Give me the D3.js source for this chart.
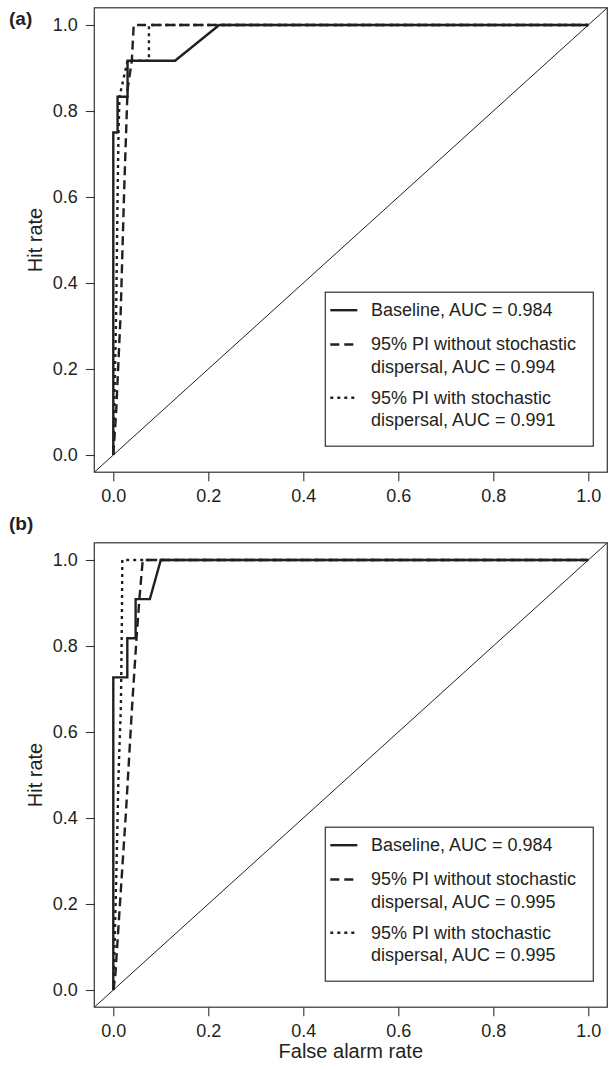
<!DOCTYPE html>
<html>
<head>
<meta charset="utf-8">
<script src="https://cdn.jsdelivr.net/npm/d3@7"></script>
<style>
  body { margin: 0; background: #fff; }
  svg text { font-family: "Liberation Sans", Arial, sans-serif; fill: #231f20; }
</style>
</head>
<body>
<div id="chart"></div>
<script>
(function(d3) {
// ---- data ----
var tickValues = [0, 0.2, 0.4, 0.6, 0.8, 1.0];
var panelLabels = ["(a)", "(b)"];
var seriesNames = ["Baseline", "95% PI without stochastic", "95% PI with stochastic"];
var aucA = [0.984, 0.994, 0.991];
var aucB = [0.984, 0.995, 0.995];

// [false alarm rate, hit rate]
var baselineA = [[0,0],[0,0.75],[0.009,0.75],[0.009,0.833],[0.03,0.833],[0.03,0.917],
                 [0.13,0.917],[0.223,1],[1,1]];
var noStochA = [[0,0],[0.003,0.05],[0.006,0.1],[0.0155,0.33],[0.023,0.62],[0.03,0.85],
                [0.039,0.917],[0.043,1],[1,1]];
var withStochA = [[0,0],[0.0015,0.08],[0.006,0.33],[0.009,0.6],[0.011,0.75],[0.013,0.833],
                  [0.03,0.917],[0.075,0.917],[0.075,1],[1,1]];

var baselineB = [[0,0],[0,0.727],[0.0295,0.727],[0.0295,0.818],[0.047,0.818],[0.047,0.909],
                 [0.077,0.909],[0.1,1],[1,1]];
var noStochB = [[0,0],[0.004,0.03],[0.014,0.2],[0.027,0.42],[0.039,0.65],[0.049,0.82],
                [0.055,0.91],[0.062,1],[1,1]];
var withStochB = [[0,0],[0.0015,0.05],[0.006,0.25],[0.011,0.5],[0.016,0.66],[0.018,0.85],
                  [0.019,1],[1,1]];

var panels = [
  {label: panelLabels[0], auc: aucA, series: [withStochA, noStochA, baselineA], top: 25, labelY: 25},
  {label: panelLabels[1], auc: aucB, series: [withStochB, noStochB, baselineB], top: 560, labelY: 530}
];

// ---- layout ----
var W = 614, H = 1069,
    x0 = 113.3, plotW = 475, plotH = 430,
    tickFont = 18, titleFont = 20, legendFont = 18, ink = "#231f20";

// draw order: dotted, dashed, solid (solid on top)
var styles = [
  {dash: "3,4", w: 2.4},
  {dash: "9,5", w: 2.4},
  {dash: null, w: 2.4}
];
var legendStyles = [styles[2], styles[1], styles[0]];

var svg = d3.select("#chart").append("svg")
    .attr("width", W)
    .attr("height", H);

panels.forEach(function(p, pi) {
  var x = d3.scaleLinear().domain([0, 1]).range([x0, x0 + plotW]);
  var y = d3.scaleLinear().domain([0, 1]).range([p.top + plotH, p.top]);
  var g = svg.append("g");

  var bx0 = x(-0.04), bx1 = x(1.04), by0 = y(-0.04), by1 = y(1.04);

  // clip to the plot box
  var clipId = "clip" + pi;
  g.append("clipPath").attr("id", clipId)
    .append("rect")
      .attr("x", bx0).attr("y", by1)
      .attr("width", bx1 - bx0).attr("height", by0 - by1);

  var inner = g.append("g").attr("clip-path", "url(#" + clipId + ")");

  // 1:1 reference line
  inner.append("line")
      .attr("x1", x(-0.04)).attr("y1", y(-0.04))
      .attr("x2", x(1.04)).attr("y2", y(1.04))
      .attr("stroke", ink).attr("stroke-width", 1);

  var line = d3.line()
      .x(function(d) { return x(d[0]); })
      .y(function(d) { return y(d[1]); });

  p.series.forEach(function(s, i) {
    inner.append("path")
        .datum(s)
        .attr("d", line)
        .attr("fill", "none")
        .attr("stroke", ink)
        .attr("stroke-width", styles[i].w)
        .attr("stroke-dasharray", styles[i].dash)
        .attr("stroke-linejoin", "miter");
  });

  // box
  g.append("rect")
      .attr("x", bx0).attr("y", by1)
      .attr("width", bx1 - bx0).attr("height", by0 - by1)
      .attr("fill", "none").attr("stroke", "#333").attr("stroke-width", 1.2);

  // axes
  var xAxis = g.append("g")
      .attr("transform", "translate(0," + by0 + ")")
      .call(d3.axisBottom(x).tickValues(tickValues).tickFormat(d3.format(".1f"))
            .tickSize(9).tickPadding(8.5));
  var yAxis = g.append("g")
      .attr("transform", "translate(" + bx0 + ",0)")
      .call(d3.axisLeft(y).tickValues(tickValues).tickFormat(d3.format(".1f"))
            .tickSize(8.5).tickPadding(8));
  [xAxis, yAxis].forEach(function(a) {
    a.select(".domain").remove();
    a.selectAll("line").attr("stroke", "#333").attr("stroke-width", 1.1);
    a.selectAll("text").attr("font-size", tickFont).attr("fill", ink)
        .attr("font-family", "Liberation Sans, Arial, sans-serif");
  });

  // y title
  g.append("text")
      .attr("transform", "translate(42," + y(0.5) + ") rotate(-90)")
      .attr("text-anchor", "middle")
      .attr("font-size", titleFont)
      .text("Hit rate");

  // panel label
  g.append("text")
      .attr("x", 9)
      .attr("y", p.labelY)
      .attr("font-size", 19)
      .attr("font-weight", "bold")
      .text(p.label);

  // legend
  var lx = bx1 - 14 - 268, ly = by0 - 26 - 154;
  var lg = g.append("g").attr("transform", "translate(" + lx + "," + ly + ")");
  lg.append("rect")
      .attr("width", 268).attr("height", 154)
      .attr("fill", "#fff").attr("stroke", "#333").attr("stroke-width", 1.2);

  var rows = [
    {sample: 18, lines: [seriesNames[0] + ", AUC = " + p.auc[0].toFixed(3)]},
    {sample: 52.3, lines: [seriesNames[1], "dispersal, AUC = " + p.auc[1].toFixed(3)]},
    {sample: 105.6, lines: [seriesNames[2], "dispersal, AUC = " + p.auc[2].toFixed(3)]}
  ];
  rows.forEach(function(r, i) {
    lg.append("line")
        .attr("x1", 5).attr("x2", 32)
        .attr("y1", r.sample).attr("y2", r.sample)
        .attr("stroke", ink)
        .attr("stroke-width", legendStyles[i].w)
        .attr("stroke-dasharray", legendStyles[i].dash);
    r.lines.forEach(function(t, j) {
      lg.append("text")
          .attr("x", 45.7)
          .attr("y", r.sample + 6 + j * 22.7)
          .attr("font-size", legendFont)
          .text(t);
    });
  });

  if (pi === 1) {
    g.append("text")
        .attr("x", x(0.5))
        .attr("y", 1058)
        .attr("text-anchor", "middle")
        .attr("font-size", titleFont)
        .text("False alarm rate");
  }
});

})(window.d3);
</script>
</body>
</html>
